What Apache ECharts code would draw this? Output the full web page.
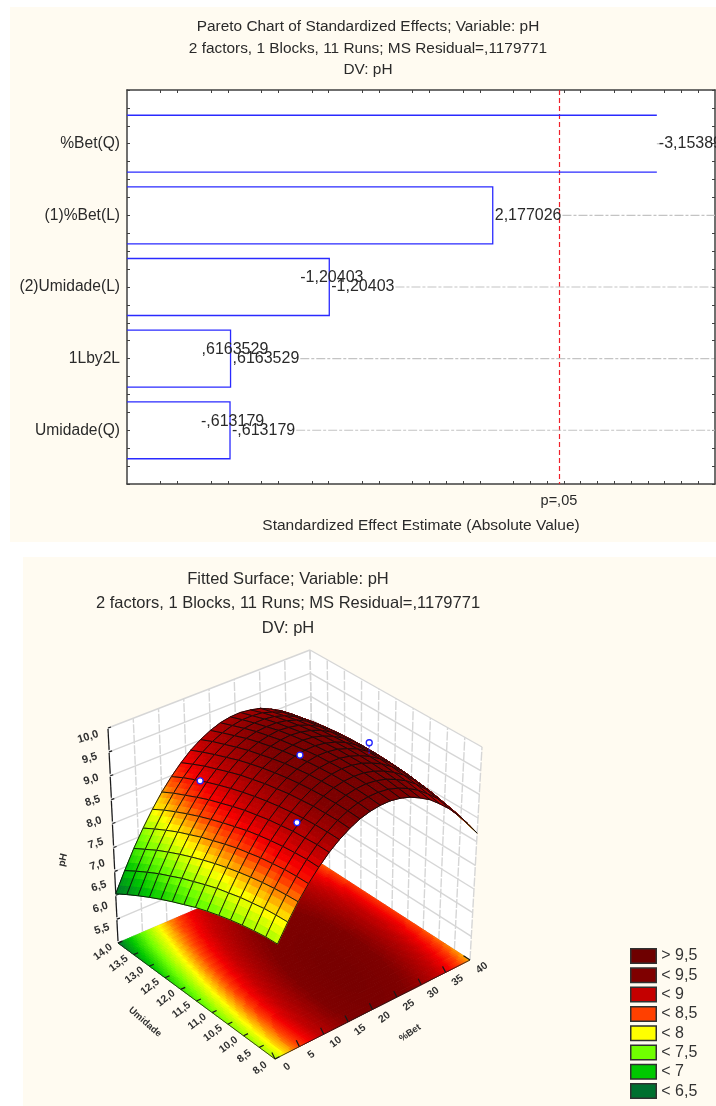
<!DOCTYPE html>
<html><head><meta charset="utf-8">
<style>html,body{margin:0;padding:0;background:#fff}#c{width:716px;height:1106px}</style>
<script src="https://cdn.jsdelivr.net/npm/echarts@6/dist/echarts.min.js"></script>
</head><body><div id="c"></div>
<script>
// ---------- Pareto data ----------
const effectNames = ['%Bet(Q)', '(1)%Bet(L)', '(2)Umidade(L)', '1Lby2L', 'Umidade(Q)'];
const effectValues = [3.1538, 2.177026, 1.20403, 0.6163529, 0.613179];
const effectLabels = ['-3,15389', '2,177026', '-1,20403', ',6163529', '-,613179'];
const criticalValue = 2.571;
const topTicks = [.2,.3,.5,.6,.8,.9,1.1,1.2,1.4,1.5,1.7,1.8,2,2.1,2.3,2.4,2.6,2.7,2.9,3,3.2,3.3,3.4];
const bottomTicks = [.2,.3,.5,.6,.8,.9,1.1,1.2,1.4,1.5,1.7,1.8,1.9,2,2.1,2.3,2.4,2.5,2.6,2.7,2.8,2.9,3,3.1,3.2,3.3,3.4];
// ---------- Surface data ----------
const betTickLabels = ['0','5','10','15','20','25','30','35','40'];
const umidTickLabels = ['14,0','13,5','13,0','12,5','12,0','11,5','11,0','10,5','10,0','8,5','8,0'];
const phTicks = [5.5,6,6.5,7,7.5,8,8.5,9,9.5,10];
const phTickLabels = ['5,5','6,0','6,5','7,0','7,5','8,0','8,5','9,0','9,5','10,0'];
// rows: Umidade 8 -> 14, columns: %Bet 0 -> 40
const phRow00 = [7.72,8.06,8.37,8.64,8.88,9.09,9.26,9.40,9.51,9.58,9.62,9.63,9.60,9.54,9.44,9.32,9.15,8.96,8.73,8.47,8.18];
const phRow01 = [7.71,8.05,8.36,8.64,8.89,9.10,9.27,9.42,9.53,9.61,9.65,9.66,9.64,9.58,9.49,9.37,9.21,9.03,8.80,8.55,8.26];
const phRow02 = [7.68,8.03,8.34,8.63,8.88,9.09,9.27,9.42,9.54,9.62,9.67,9.69,9.67,9.62,9.53,9.42,9.27,9.08,8.86,8.61,8.33];
const phRow03 = [7.64,7.99,8.31,8.60,8.86,9.08,9.26,9.42,9.54,9.63,9.68,9.70,9.69,9.64,9.56,9.45,9.31,9.13,8.91,8.67,8.39];
const phRow04 = [7.59,7.95,8.27,8.57,8.83,9.05,9.24,9.40,9.53,9.62,9.68,9.71,9.70,9.66,9.58,9.48,9.34,9.16,8.95,8.71,8.44];
const phRow05 = [7.53,7.89,8.22,8.52,8.79,9.02,9.21,9.38,9.51,9.61,9.67,9.70,9.70,9.66,9.59,9.49,9.36,9.19,8.98,8.75,8.48];
const phRow06 = [7.46,7.83,8.16,8.47,8.74,8.97,9.17,9.34,9.48,9.58,9.65,9.69,9.69,9.66,9.59,9.50,9.37,9.20,9.00,8.77,8.51];
const phRow07 = [7.38,7.75,8.09,8.40,8.67,8.92,9.12,9.30,9.44,9.55,9.62,9.66,9.67,9.64,9.58,9.49,9.36,9.20,9.01,8.78,8.53];
const phRow08 = [7.28,7.66,8.01,8.32,8.60,8.85,9.06,9.24,9.39,9.50,9.58,9.62,9.64,9.62,9.56,9.47,9.35,9.20,9.01,8.79,8.53];
const phRow09 = [7.18,7.57,7.92,8.24,8.52,8.77,8.99,9.18,9.33,9.44,9.53,9.58,9.60,9.58,9.53,9.45,9.33,9.18,9.00,8.78,8.53];
const phRow10 = [7.07,7.46,7.82,8.14,8.43,8.69,8.91,9.10,9.26,9.38,9.47,9.52,9.55,9.53,9.49,9.41,9.30,9.16,8.98,8.77,8.52];
const phRow11 = [6.95,7.35,7.71,8.04,8.33,8.59,8.82,9.01,9.17,9.30,9.40,9.46,9.48,9.48,9.44,9.37,9.26,9.12,8.95,8.74,8.50];
const phRow12 = [6.82,7.22,7.59,7.92,8.22,8.48,8.72,8.92,9.08,9.21,9.31,9.38,9.41,9.41,9.38,9.31,9.21,9.07,8.91,8.70,8.47];
const phRow13 = [6.68,7.08,7.45,7.79,8.10,8.37,8.61,8.81,8.98,9.12,9.22,9.29,9.33,9.33,9.31,9.24,9.15,9.02,8.85,8.66,8.43];
const phRow14 = [6.53,6.93,7.31,7.65,7.96,8.24,8.48,8.69,8.87,9.01,9.12,9.20,9.24,9.25,9.22,9.17,9.07,8.95,8.79,8.60,8.38];
const phSurface = [phRow00,phRow01,phRow02,phRow03,phRow04,phRow05,phRow06,phRow07,phRow08,phRow09,phRow10,phRow11,phRow12,phRow13,phRow14];
// observed runs visible in the picture
const obsBet = [12.8, 21, 12, 34.8];
const obsUmid = [13.1, 11, 9.5, 11];
const obsPH = [8.68, 9.6, 9.1, 9.28];
const obsFitted = [8.68, 9.6, 9.1, 9.04];
// legend
const legendLabels = ['> 9,5','< 9,5','< 9','< 8,5','< 8','< 7,5','< 7','< 6,5'];
const legendColors = ['#6E0000','#7F0000','#C40000','#FF4000','#FFFF00','#70FF00','#00C800','#00702F'];
// colour ramp of the surface
const rampLevels = [10,9.5,9,8.75,8.5,8,7.5,7,6.5];
const rampColors = ['#6E0000','#7F0000','#C40000','#F40000','#FF4000','#FFFF00','#70FF00','#00C800','#00702F'];

const FONT = '"Liberation Sans", Arial, sans-serif';
// 3-D view: screen position of the eight corners of the box
const BOX = {
  f00:[275,1059], f10:[470,960], f01:[118,943], f11:[314,859],
  t00:[280,826],  t10:[482,747], t01:[108,728], t11:[310,650]
};
function project(bet, umid, ph){
  const s = bet/40, t = (umid-8)/6, w = (ph-5.5)/4.5;
  const bl = (a,b,c,d,k)=> a[k]*(1-s)*(1-t)+b[k]*s*(1-t)+c[k]*(1-s)*t+d[k]*s*t;
  const fx = bl(BOX.f00,BOX.f10,BOX.f01,BOX.f11,0), fy = bl(BOX.f00,BOX.f10,BOX.f01,BOX.f11,1);
  const tx = bl(BOX.t00,BOX.t10,BOX.t01,BOX.t11,0), ty = bl(BOX.t00,BOX.t10,BOX.t01,BOX.t11,1);
  return [fx+(tx-fx)*w, fy+(ty-fy)*w];
}
function hex(c){ return [1,3,5].map(i=>parseInt(c.substr(i,2),16)); }
function phColor(v){
  v = Math.round(v*20)/20;
  if(v>=rampLevels[0]) return rampColors[0];
  for(let i=0;i<rampLevels.length-1;i++){
    if(v<=rampLevels[i] && v>=rampLevels[i+1]){
      const k=(v-rampLevels[i+1])/(rampLevels[i]-rampLevels[i+1]);
      const a=hex(rampColors[i]), b=hex(rampColors[i+1]);
      return 'rgb('+a.map((x,n)=>Math.round(b[n]+(x-b[n])*k)).join(',')+')';
    }
  }
  return rampColors[rampColors.length-1];
}
const nBet = phSurface[0].length, nUm = phSurface.length;
const betAt = i => 40*i/(nBet-1), umAt = j => 8+6*j/(nUm-1);
function cellPolys(api, i, j, sub, flat, children){
  const z00=phSurface[j][i], z10=phSurface[j][i+1], z01=phSurface[j+1][i], z11=phSurface[j+1][i+1];
  const Z=(a,b)=> z00*(1-a)*(1-b)+z10*a*(1-b)+z01*(1-a)*b+z11*a*b;
  const P=(a,b)=> api.coord(project(betAt(i+a), umAt(j+b), flat?5.5:Z(a,b)));
  for(let a=sub-1;a>=0;a--) for(let b=sub-1;b>=0;b--){
    const a0=a/sub,a1=(a+1)/sub,b0=b/sub,b1=(b+1)/sub;
    const col=phColor(Z((a0+a1)/2,(b0+b1)/2));
    children.push({type:'polygon',silent:true,shape:{points:[P(a0,b0),P(a1,b0),P(a1,b1),P(a0,b1)]},
      style:{fill:col,stroke:col,lineWidth:1}});
  }
  if(!flat){
    children.push({type:'polygon',silent:true,shape:{points:[P(0,0),P(1,0),P(1,1),P(0,1)]},
      style:{fill:'none',stroke:'#0c0c0c',lineWidth:.9}});
  }
}
const cellOrder=[];
for(let i=nBet-2;i>=0;i--) for(let j=nUm-2;j>=0;j--) cellOrder.push([i,j]);

function renderBox(params, api){
  const ch=[], P=(b,u,p)=>api.coord(project(b,u,p));
  ch.push({type:'polygon',silent:true,shape:{points:[P(0,14,5.5),P(40,14,5.5),P(40,14,10),P(0,14,10)]},style:{fill:'#fff'}});
  ch.push({type:'polygon',silent:true,shape:{points:[P(40,14,5.5),P(40,8,5.5),P(40,8,10),P(40,14,10)]},style:{fill:'#fff'}});
  const grid={stroke:'#d6d6d6',lineWidth:1.4};
  const gridV={stroke:'#d6d6d6',lineWidth:1.4,lineDash:[9,1.5]};
  const line=(a,b,st)=>ch.push({type:'line',silent:true,shape:{x1:a[0],y1:a[1],x2:b[0],y2:b[1]},style:st});
  phTicks.forEach(p=>{ line(P(0,14,p),P(40,14,p),grid); line(P(40,14,p),P(40,8,p),grid); });
  betTickLabels.forEach((l,k)=>{ const b=40*k/(betTickLabels.length-1); line(P(b,14,5.5),P(b,14,10),gridV); });
  umidTickLabels.forEach((l,k)=>{ const u=14-6*k/(umidTickLabels.length-1); line(P(40,u,5.5),P(40,u,10),gridV); });
  return {type:'group',children:ch};
}
function renderAxes3D(params, api){
  const ch=[], P=(b,u,p)=>api.coord(project(b,u,p));
  const dark={stroke:'#1a1a1a',lineWidth:1.2};
  const thin={stroke:'#1a1a1a',lineWidth:.8};
  const line=(a,b,st)=>ch.push({type:'line',silent:true,shape:{x1:a[0],y1:a[1],x2:b[0],y2:b[1]},style:st});
  const text=(s,p,dx,dy,rot,size)=>ch.push({type:'text',silent:true,x:p[0]+dx,y:p[1]+dy,rotation:rot,
    style:{text:s,font:'bold '+size+'px '+FONT,fill:'#303030',align:'center',verticalAlign:'middle'}});
  line(P(0,14,5.5),P(0,8,5.5),thin); line(P(0,8,5.5),P(40,8,5.5),thin);
  const lastPh=phTicks.length-1;
  phTicks.forEach((p,k)=>{
    const a=P(0,14,p);
    line(a,[a[0]+3,a[1]-1],dark);
    if(k<lastPh){ const b=P(0,14,phTicks[k+1]); line([a[0],a[1]-2],[b[0],b[1]+1],dark); }
    text(phTickLabels[k],a,-16-4*k/lastPh,-14+23*k/lastPh,.3,11);
  });
  betTickLabels.forEach((l,k)=>{
    const b=40*k/(betTickLabels.length-1), a=P(b,8,5.5), c=P(Math.min(b+.7,40),8.25,5.5);
    line(a,c,dark);
    text(l,a,12,8,.65,10.5);
  });
  umidTickLabels.forEach((l,k)=>{
    const u=14-6*k/(umidTickLabels.length-1), a=P(0,u,5.5), c=P(.9,u,5.5);
    line(a,c,dark);
    text(l,a,-15,9,.65,10.5);
  });
  const title=(s,x,y,rot,size)=>{ const c=api.coord([x,y]); ch.push({type:'text',silent:true,x:c[0],y:c[1],rotation:rot,
    style:{text:s,font:'bold '+size+'px '+FONT,fill:'#303030',align:'center',verticalAlign:'middle'}}); };
  title('Umidade',145,1022,-.72,9.5);
  title('%Bet',410,1033,.6,9.5);
  title('pH',63,860,1.35,10);
  return {type:'group',children:ch};
}
function renderObs(params, api){
  const i=params.dataIndex;
  const top=api.coord(project(obsBet[i],obsUmid[i],obsPH[i]));
  const base=api.coord(project(obsBet[i],obsUmid[i],obsFitted[i]));
  return {type:'group',children:[
    {type:'line',silent:true,shape:{x1:top[0],y1:top[1],x2:base[0],y2:base[1]},style:{stroke:'#2222ff',lineWidth:1,lineDash:[2,1]}},
    {type:'circle',silent:true,shape:{cx:top[0],cy:top[1],r:3},style:{fill:'#fff',stroke:'#2222ff',lineWidth:1.3}}
  ]};
}
const barFont='16px '+FONT;
const measureCtx=document.createElement('canvas').getContext('2d');
measureCtx.font=barFont;
function renderBars(params, api){
  const idx=params.dataIndex, i=api.value(1), v=api.value(0);
  const h=api.size([0,1])[1]*0.795;
  const L=api.coord([0,i]), R=api.coord([v,i]);
  const y0=L[1]-h/2, y1=L[1]+h/2;
  const blue={stroke:'#2A2AFF',lineWidth:1.3,fill:'none'};
  const pts = idx===0
    ? [{type:'polyline',shape:{points:[[L[0],y0],[R[0],y0]]},style:blue},{type:'polyline',shape:{points:[[L[0],y1],[R[0],y1]]},style:blue}]
    : [{type:'polyline',shape:{points:[[L[0],y0],[R[0],y0],[R[0],y1],[L[0],y1]]},style:blue}];
  const xEnd=api.coord([3.5,i])[0];
  const startX = idx===0 ? R[0] : R[0]+3+measureCtx.measureText(effectLabels[idx]).width;
  const children=[
    {type:'line',shape:{x1:startX,y1:L[1],x2:idx===0?R[0]+5:xEnd,y2:L[1]},style:{stroke:'#c4c4c4',lineWidth:1.2,lineDash:[9,2,3,2]}},
    ...pts,
    {type:'text',x:R[0]+2,y:L[1],style:{text:effectLabels[idx],font:barFont,fill:'#2a2a2a',align:'left',verticalAlign:'middle'}}
  ];
  if(idx>=2){
    children.push({type:'text',x:R[0]-29,y:L[1]-9,style:{text:effectLabels[idx],font:barFont,fill:'#2a2a2a',align:'left',verticalAlign:'middle'}});
  }
  return {type:'group',children};
}
const labelFont={fontFamily:FONT,color:'#2a2a2a'};
const chart=echarts.init(document.getElementById('c'),null,{renderer:'canvas',width:716,height:1106});
const frame={show:true,onZero:false,lineStyle:{color:'#404040',width:1.5}};
const option={
  animation:false,
  backgroundColor:'#fff',
  graphic:[
    {type:'rect',z:-10,silent:true,shape:{x:10,y:7,width:706,height:535},style:{fill:'#FFFBF1'}},
    {type:'rect',z:-10,silent:true,shape:{x:23,y:557,width:693,height:549},style:{fill:'#FFFBF1'}}
  ],
  title:[
    {left:363,top:11,textAlign:'center',text:'Pareto Chart of Standardized Effects; Variable: pH\n2 factors, 1 Blocks, 11 Runs; MS Residual=,1179771\nDV: pH',
      textStyle:{...labelFont,fontSize:15.4,fontWeight:'normal',lineHeight:21.5}},
    {left:283,top:562,textAlign:'center',text:'Fitted Surface; Variable: pH\n2 factors, 1 Blocks, 11 Runs; MS Residual=,1179771\nDV: pH',
      textStyle:{...labelFont,fontSize:16.5,fontWeight:'normal',lineHeight:24.5}}
  ],
  grid:[
    {left:127,top:90,width:588,height:394,show:true,backgroundColor:'#fff',borderWidth:0},
    {left:0,top:0,width:716,height:1106,show:false}
  ],
  xAxis:[
    {type:'value',gridIndex:0,min:0,max:3.5,position:'bottom',axisLine:frame,splitLine:{show:false},
     axisTick:{show:true,inside:true,length:3,customValues:bottomTicks,lineStyle:{color:'#404040'}},
     axisLabel:{show:true,customValues:[criticalValue],formatter:()=>'p=,05',margin:9,fontSize:14.5,...labelFont},
     name:'Standardized Effect Estimate (Absolute Value)',nameLocation:'middle',nameGap:34,
     nameTextStyle:{...labelFont,fontSize:15.5}},
    {type:'value',gridIndex:0,min:0,max:3.5,position:'top',axisLine:frame,splitLine:{show:false},
     axisTick:{show:true,inside:true,length:3,customValues:topTicks,lineStyle:{color:'#404040'}},
     axisLabel:{show:false}},
    {type:'value',gridIndex:1,min:0,max:716,show:false}
  ],
  yAxis:[
    {type:'value',gridIndex:0,inverse:true,min:-.75,max:4.75,interval:.25,position:'left',axisLine:frame,splitLine:{show:false},
     axisTick:{show:true,inside:true,length:3,lineStyle:{color:'#404040'}},
     axisLabel:{show:true,customValues:[0,1,2,3,4],formatter:v=>effectNames[v],margin:7,fontSize:15.6,padding:[3,0,0,0],...labelFont}},
    {type:'value',gridIndex:0,inverse:true,min:-.75,max:4.75,interval:.25,position:'right',axisLine:frame,splitLine:{show:false},
     axisTick:{show:true,inside:true,length:3,lineStyle:{color:'#404040'}},axisLabel:{show:false}},
    {type:'value',gridIndex:1,min:0,max:1106,inverse:true,show:false}
  ],
  legend:{
    orient:'vertical',left:625,top:943,itemWidth:25.5,itemHeight:14.5,itemGap:3.3,selectedMode:false,
    icon:'rect',itemStyle:{borderColor:'#303030',borderWidth:1.5,opacity:1},
    textStyle:{...labelFont,fontSize:16,color:'#333',lineHeight:16},
    data:legendLabels
  },
  series:[
    {type:'custom',name:'effects',xAxisIndex:0,yAxisIndex:0,clip:false,z:5,
     data:effectValues.map((v,i)=>[v,i]),encode:{x:0,y:1},renderItem:renderBars,
     markLine:{silent:true,symbol:'none',label:{show:false},data:[{xAxis:criticalValue}],
       lineStyle:{color:'#F0202A',type:[5,3],width:1.2}}},
    {type:'custom',name:'box',xAxisIndex:2,yAxisIndex:2,clip:false,data:[[0,0]],renderItem:renderBox},
    {type:'custom',name:'floor',xAxisIndex:2,yAxisIndex:2,clip:false,progressive:0,data:cellOrder,
     renderItem:(p,api)=>{const c=[];const d=cellOrder[p.dataIndex];cellPolys(api,d[0],d[1],5,true,c);return {type:'group',children:c};}},
    {type:'custom',name:'axes3d',xAxisIndex:2,yAxisIndex:2,clip:false,data:[[0,0]],renderItem:renderAxes3D},
    {type:'custom',name:'surface',xAxisIndex:2,yAxisIndex:2,clip:false,progressive:0,data:cellOrder,
     renderItem:(p,api)=>{const c=[];const d=cellOrder[p.dataIndex];cellPolys(api,d[0],d[1],3,false,c);return {type:'group',children:c};}},
    {type:'custom',name:'observed',xAxisIndex:2,yAxisIndex:2,clip:false,data:obsBet.map((b,i)=>[b,i]),renderItem:renderObs},
    ...legendLabels.map((n,i)=>({type:'scatter',name:n,xAxisIndex:2,yAxisIndex:2,data:[],itemStyle:{color:legendColors[i],opacity:1}}))
  ]
};
chart.setOption(option);
</script></body></html>
